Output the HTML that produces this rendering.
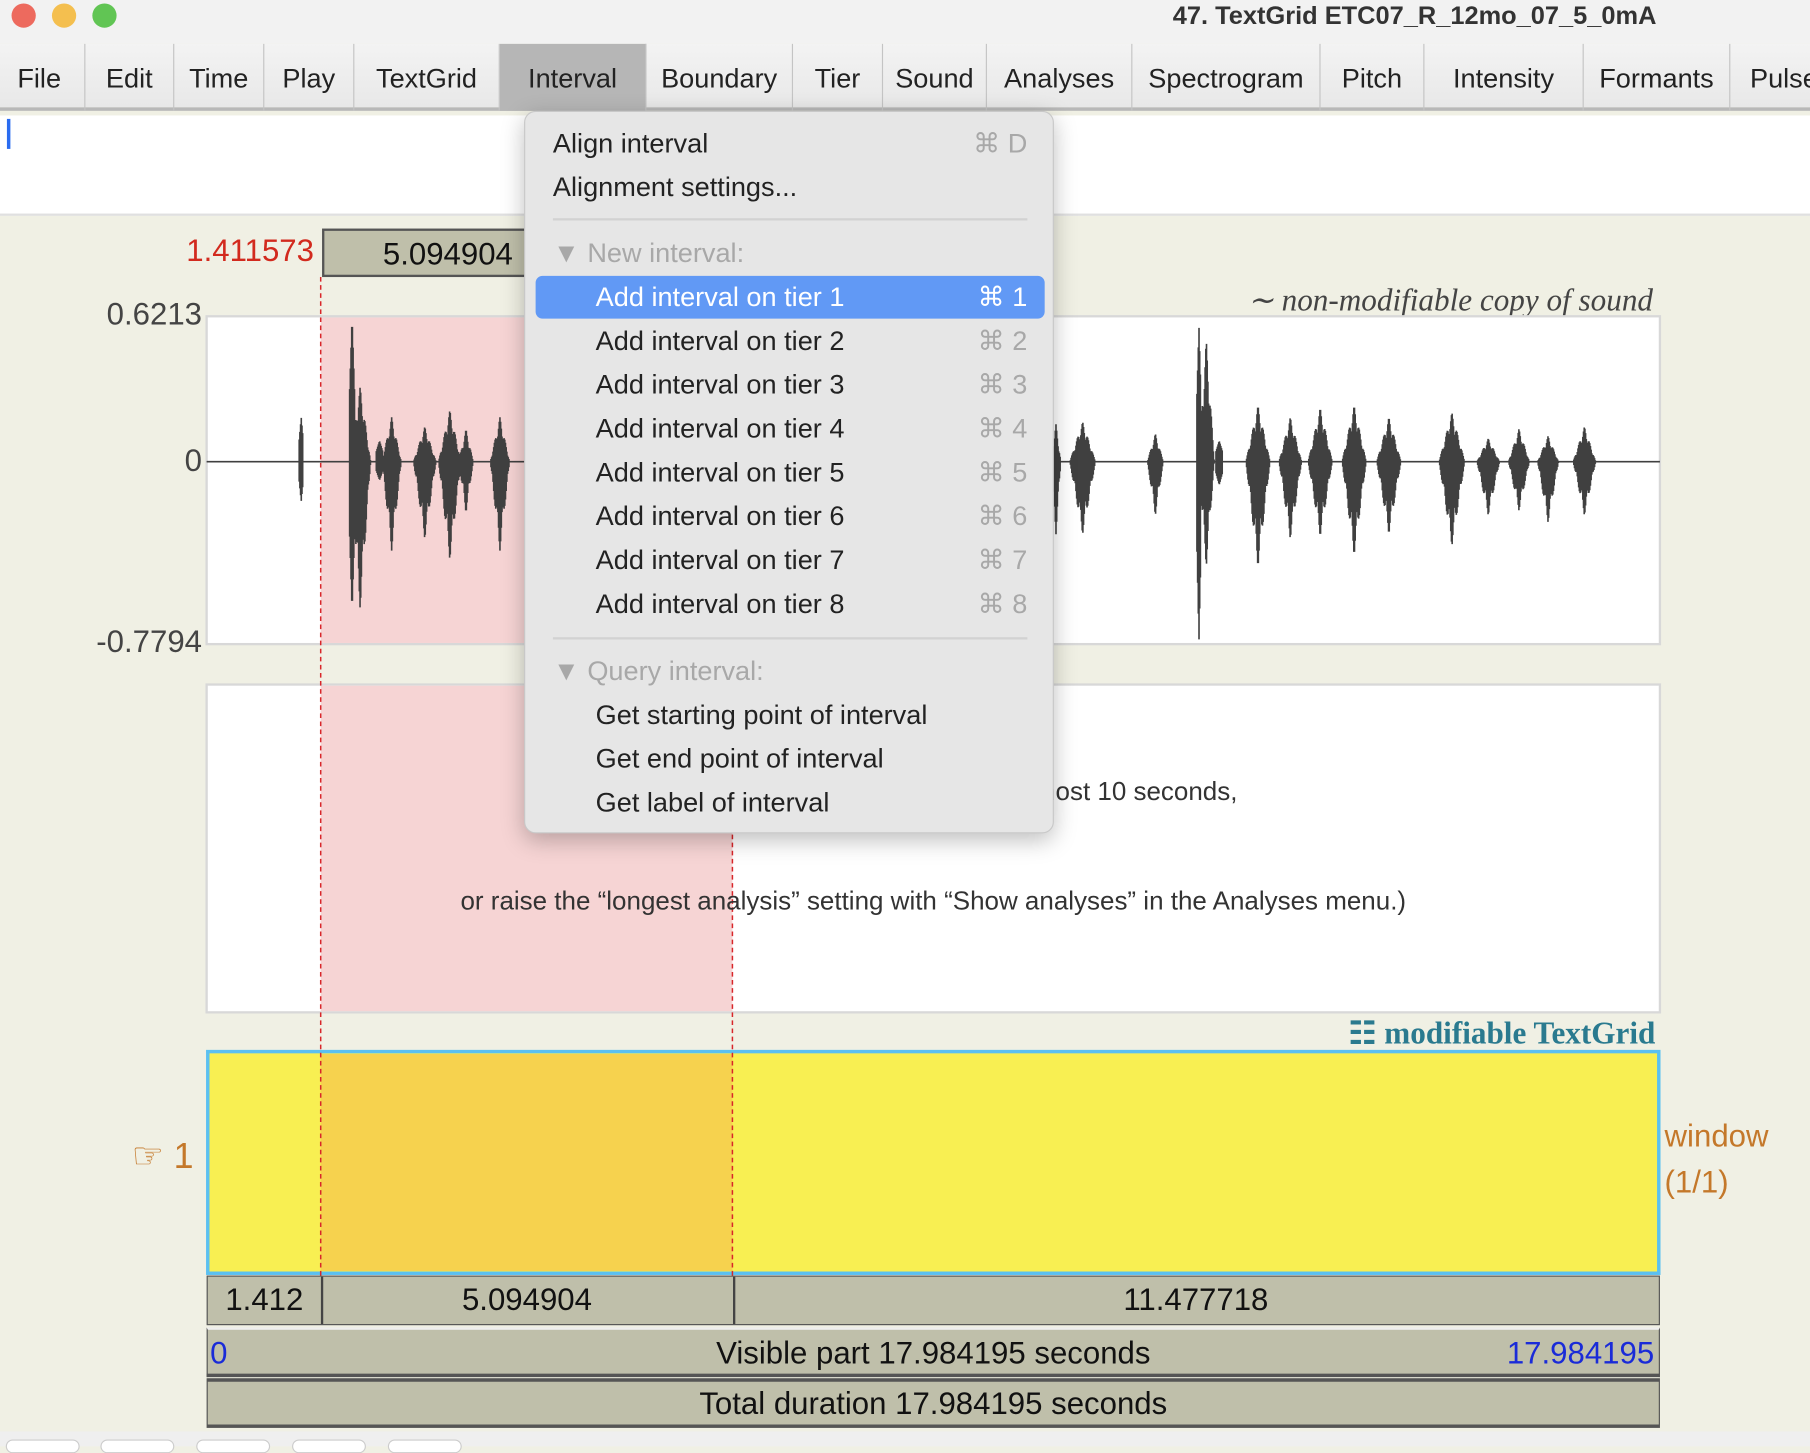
<!DOCTYPE html>
<html><head><meta charset="utf-8">
<style>
html,body{margin:0;padding:0;width:1810px;height:1446px;overflow:hidden;background:#f0f0e4;font-family:"Liberation Sans",sans-serif;}
#wrap{position:absolute;left:0;top:0;width:1568px;height:1253px;transform:scale(1.154337);transform-origin:0 0;background:#f0f0e4;}
.abs{position:absolute;}
.mi{position:absolute;top:38px;height:58px;line-height:60px;font-size:23.5px;color:#222;text-align:center;border-right:1px solid #c4c4c4;box-sizing:border-box;white-space:nowrap;}
.menu-item{position:absolute;left:0;width:459px;height:38px;line-height:38px;font-size:23.5px;color:#222;white-space:nowrap;}
.menu-item .lbl{position:absolute;left:61px;}
.menu-item .sc{position:absolute;right:24px;color:#a8a8a8;}
.bar{position:absolute;left:179px;width:1259px;background:#bfbfaa;border:1px solid #555;box-sizing:border-box;font-size:27px;color:#111;}
</style></head><body>
<div id="wrap">
  <div class="abs" style="left:0;top:0;width:1568px;height:38px;background:#f2f2f2;"></div>
  <div class="abs" style="left:10px;top:3px;width:21px;height:21px;border-radius:50%;background:#ed6a5e;"></div>
  <div class="abs" style="left:45px;top:3px;width:21px;height:21px;border-radius:50%;background:#f4bf4f;"></div>
  <div class="abs" style="left:80px;top:3px;width:21px;height:21px;border-radius:50%;background:#61c554;"></div>
  <div class="abs" style="right:133px;top:0;height:28px;line-height:28px;font-size:22px;font-weight:bold;color:#333;">47. TextGrid ETC07_R_12mo_07_5_0mA</div>
  <div class="abs" style="left:0;top:38px;width:1568px;height:58px;background:linear-gradient(#f3f3f3,#e8e8e8);border-bottom:3px solid #b8b8b8;box-sizing:border-box;"></div>
  <div class="mi" style="left:0;width:74px;text-align:left;padding-left:15px;">File</div>
  <div class="mi" style="left:74px;width:77px;">Edit</div>
  <div class="mi" style="left:151px;width:78px;">Time</div>
  <div class="mi" style="left:229px;width:78px;">Play</div>
  <div class="mi" style="left:307px;width:126px;">TextGrid</div>
  <div class="mi" style="left:433px;width:127px;background:#b6b6b6;">Interval</div>
  <div class="mi" style="left:560px;width:127px;">Boundary</div>
  <div class="mi" style="left:687px;width:78px;">Tier</div>
  <div class="mi" style="left:765px;width:90px;">Sound</div>
  <div class="mi" style="left:855px;width:126px;">Analyses</div>
  <div class="mi" style="left:981px;width:163px;">Spectrogram</div>
  <div class="mi" style="left:1144px;width:90px;">Pitch</div>
  <div class="mi" style="left:1234px;width:138px;">Intensity</div>
  <div class="mi" style="left:1372px;width:127px;">Formants</div>
  <div class="mi" style="left:1499px;width:90px;text-align:left;padding-left:17px;border-right:none;">Pulses</div>
  <div class="abs" style="left:0;top:100px;width:1568px;height:85px;background:#fff;border-bottom:2px solid #e0e0e0;"></div>
  <div class="abs" style="left:6px;top:103px;width:3px;height:26px;background:#2a6cf0;"></div>
  <div class="abs" style="right:1296px;top:202px;font-size:27px;color:#d22a1e;">1.411573</div>
  <div class="abs" style="left:279px;top:198px;width:218px;height:42px;background:#bfbfaa;border:2px solid #555;box-sizing:border-box;font-size:27px;line-height:40px;text-align:center;color:#111;">5.094904</div>
  <div class="abs" style="right:136px;top:245px;font-family:'Liberation Serif',serif;font-style:italic;font-size:27px;color:#444;">∼ non-modifiable copy of sound</div>
  <div class="abs" style="right:1393px;top:257px;font-size:27px;color:#444;">0.6213</div>
  <div class="abs" style="right:1393px;top:384px;font-size:27px;color:#444;">0</div>
  <div class="abs" style="right:1393px;top:541px;font-size:27px;color:#444;">-0.7794</div>
  <svg class="abs" id="wave" style="left:0;top:0;" width="1568" height="1253"></svg>
  <div class="abs" style="right:496px;top:673px;font-size:22.5px;color:#333;white-space:nowrap;">(To see the analyses, zoom in to at most 10 seconds,</div>
  <div class="abs" style="left:0;width:1617px;top:768px;text-align:center;font-size:22.5px;color:#333;white-space:nowrap;">or raise the “longest analysis” setting with “Show analyses” in the Analyses menu.)</div>
  <div class="abs" style="right:134px;top:880px;font-family:'Liberation Serif',serif;font-weight:bold;font-size:27px;color:#2a7a8f;">☷ modifiable TextGrid</div>
  <div class="abs" style="left:114px;top:984px;font-size:31px;color:#c4782a;">☞ 1</div>
  <div class="abs" style="left:1442px;top:969px;font-size:27px;color:#c4782a;">window</div>
  <div class="abs" style="left:1442px;top:1009px;font-size:27px;color:#c4782a;">(1/1)</div>
  <div class="bar" style="top:1105px;height:43px;">
    <div class="abs" style="left:0;width:98px;top:0;line-height:40px;text-align:center;border-right:2px solid #444;height:41px;">1.412</div>
    <div class="abs" style="left:98px;width:357px;top:0;line-height:40px;text-align:center;border-right:2px solid #444;height:41px;">5.094904</div>
    <div class="abs" style="left:455px;width:802px;top:0;line-height:40px;text-align:center;">11.477718</div>
  </div>
  <div class="bar" style="top:1150px;height:43px;border-top:2px solid #eee;border-bottom:3px solid #555;">
    <div class="abs" style="left:2px;top:0;line-height:40px;color:#1a2bd8;">0</div>
    <div class="abs" style="left:0;width:1257px;top:0;line-height:40px;text-align:center;">Visible part 17.984195 seconds</div>
    <div class="abs" style="right:4px;top:0;line-height:40px;color:#1a2bd8;">17.984195</div>
  </div>
  <div class="bar" style="top:1194px;height:43px;border-top:3px solid #555;border-bottom:3px solid #555;">
    <div class="abs" style="left:0;width:1257px;top:0;line-height:38px;text-align:center;">Total duration 17.984195 seconds</div>
  </div>
  <div class="abs" style="left:0;top:1240px;width:1568px;height:13px;background:#efefef;">
    <div class="abs" style="left:5px;top:7px;width:62px;height:10px;border:1px solid #ccc;border-radius:8px;background:#fff;"></div>
    <div class="abs" style="left:87px;top:7px;width:62px;height:10px;border:1px solid #ccc;border-radius:8px;background:#fff;"></div>
    <div class="abs" style="left:170px;top:7px;width:62px;height:10px;border:1px solid #ccc;border-radius:8px;background:#fff;"></div>
    <div class="abs" style="left:253px;top:7px;width:62px;height:10px;border:1px solid #ccc;border-radius:8px;background:#fff;"></div>
    <div class="abs" style="left:336px;top:7px;width:62px;height:10px;border:1px solid #ccc;border-radius:8px;background:#fff;"></div>
  </div>
  <div class="abs" style="left:454px;top:96px;width:459px;height:626px;background:#e6e6e6;border:1px solid #c8c8c8;border-radius:10px;box-shadow:0 6px 20px rgba(0,0,0,0.25);box-sizing:border-box;">
    <div class="menu-item" style="top:8px;"><span class="lbl" style="left:24px;">Align interval</span><span class="sc">⌘ D</span></div>
    <div class="menu-item" style="top:46px;"><span class="lbl" style="left:24px;">Alignment settings...</span></div>
    <div class="abs" style="left:24px;top:92px;width:411px;height:2px;background:#d2d2d2;"></div>
    <div class="menu-item" style="top:103px;color:#a8a8a8;"><span class="lbl" style="left:24px;">▼ New interval:</span></div>
    <div class="abs" style="left:9px;top:142px;width:441px;height:37px;border-radius:6px;background:#6199f5;"></div>
    <div class="menu-item" style="top:141px;color:#fff;"><span class="lbl">Add interval on tier 1</span><span class="sc" style="color:#fff;">⌘ 1</span></div>
    <div class="menu-item" style="top:179px;"><span class="lbl">Add interval on tier 2</span><span class="sc">⌘ 2</span></div>
    <div class="menu-item" style="top:217px;"><span class="lbl">Add interval on tier 3</span><span class="sc">⌘ 3</span></div>
    <div class="menu-item" style="top:255px;"><span class="lbl">Add interval on tier 4</span><span class="sc">⌘ 4</span></div>
    <div class="menu-item" style="top:293px;"><span class="lbl">Add interval on tier 5</span><span class="sc">⌘ 5</span></div>
    <div class="menu-item" style="top:331px;"><span class="lbl">Add interval on tier 6</span><span class="sc">⌘ 6</span></div>
    <div class="menu-item" style="top:369px;"><span class="lbl">Add interval on tier 7</span><span class="sc">⌘ 7</span></div>
    <div class="menu-item" style="top:407px;"><span class="lbl">Add interval on tier 8</span><span class="sc">⌘ 8</span></div>
    <div class="abs" style="left:24px;top:455px;width:411px;height:2px;background:#d2d2d2;"></div>
    <div class="menu-item" style="top:465px;color:#a8a8a8;"><span class="lbl" style="left:24px;">▼ Query interval:</span></div>
    <div class="menu-item" style="top:503px;"><span class="lbl">Get starting point of interval</span></div>
    <div class="menu-item" style="top:541px;"><span class="lbl">Get end point of interval</span></div>
    <div class="menu-item" style="top:579px;"><span class="lbl">Get label of interval</span></div>
  </div>
</div>
<script>
const totalDuration = 17.984195;
const selStart = 1.411573;
const selEnd = 6.506477;
const yMax = 0.6213;
const yMin = -0.7794;
const burstTimes = [1.17, 1.80, 1.90, 2.14, 2.29, 2.70, 3.01, 3.21, 3.63, 10.51, 10.84, 11.74, 12.28, 12.37, 12.53, 13.01, 13.41, 13.78, 14.20, 14.63, 15.41, 15.86, 16.24, 16.60, 17.05];
const burstDur  = [0.05, 0.06, 0.26, 0.08, 0.24, 0.28, 0.28, 0.18, 0.24, 0.12, 0.32, 0.20, 0.05, 0.20, 0.08, 0.30, 0.28, 0.30, 0.30, 0.30, 0.32, 0.28, 0.26, 0.26, 0.28];
const burstMax  = [0.19, 0.62, 0.32, 0.09, 0.19, 0.15, 0.22, 0.14, 0.19, 0.16, 0.17, 0.12, 0.58, 0.52, 0.09, 0.24, 0.19, 0.23, 0.24, 0.19, 0.21, 0.10, 0.14, 0.11, 0.15];
const burstMin  = [-0.17, -0.64, -0.63, -0.08, -0.38, -0.33, -0.42, -0.22, -0.38, -0.31, -0.31, -0.23, -0.77, -0.45, -0.10, -0.45, -0.33, -0.32, -0.40, -0.31, -0.36, -0.23, -0.21, -0.26, -0.23];

const NS = 'http://www.w3.org/2000/svg';
const svg = document.getElementById('wave');
const X0 = 179, X1 = 1438;
const xs = t => X0 + (t / totalDuration) * (X1 - X0);
const W_TOP = 274, W_BOT = 558;
const ys = v => W_TOP + (yMax - v) / (yMax - yMin) * (W_BOT - W_TOP);
function el(tag, attrs){ const e = document.createElementNS(NS, tag); for (const k in attrs) e.setAttribute(k, attrs[k]); svg.appendChild(e); return e; }

let r;
r = el('rect', {x:X0, y:W_TOP, width:X1-X0, height:W_BOT-W_TOP, fill:'#fff', stroke:'#d8d8d8', 'stroke-width':2});


r = el('rect', {x:X0, y:593, width:X1-X0, height:284, fill:'#fff', stroke:'#d8d8d8', 'stroke-width':2});


r = el('rect', {x:xs(selStart), y:W_TOP+1, width:xs(selEnd)-xs(selStart), height:W_BOT-W_TOP-2, fill:'#f6d4d4'});


r = el('rect', {x:xs(selStart), y:594, width:xs(selEnd)-xs(selStart), height:282, fill:'#f6d4d4'});


r = el('rect', {x:X0+1, y:911, width:X1-X0-2, height:192, fill:'#f8ef52', stroke:'#5bc0f0', 'stroke-width':3});


r = el('rect', {x:xs(selStart), y:913, width:xs(selEnd)-xs(selStart), height:188, fill:'#f6d24e'});



let d = 'M' + X0 + ' ' + ys(0) + ' L' + X1 + ' ' + ys(0);
for (let i = 0; i < burstTimes.length; i++) {
  const cx = xs(burstTimes[i]);
  const hw = Math.max(1.5, (xs(burstDur[i]) - X0) / 2);
  for (let dx = -hw; dx <= hw; dx += 0.6) {
    const u = Math.abs(dx) / hw;
    let env = (1 - u) * (0.6 + 0.4 * Math.abs(Math.cos(dx * 0.7)));
    if (hw < 3) env = 1 - u * 0.5;
    d += ' M' + (cx + dx).toFixed(1) + ' ' + ys(burstMax[i] * env).toFixed(1) + ' L' + (cx + dx).toFixed(1) + ' ' + ys(burstMin[i] * env).toFixed(1);
  }
}
const wp = el('path', {d:d, stroke:'#404040', 'stroke-width':1.4, fill:'none'});



[selStart, selEnd].forEach((t, i) => {
  const ln = el('line', {x1:xs(t), x2:xs(t), y1:240, y2:1105, stroke:'#d8262a', 'stroke-width':1.3, 'stroke-dasharray':'4,3'});
  
  
});
</script>
</body></html>
